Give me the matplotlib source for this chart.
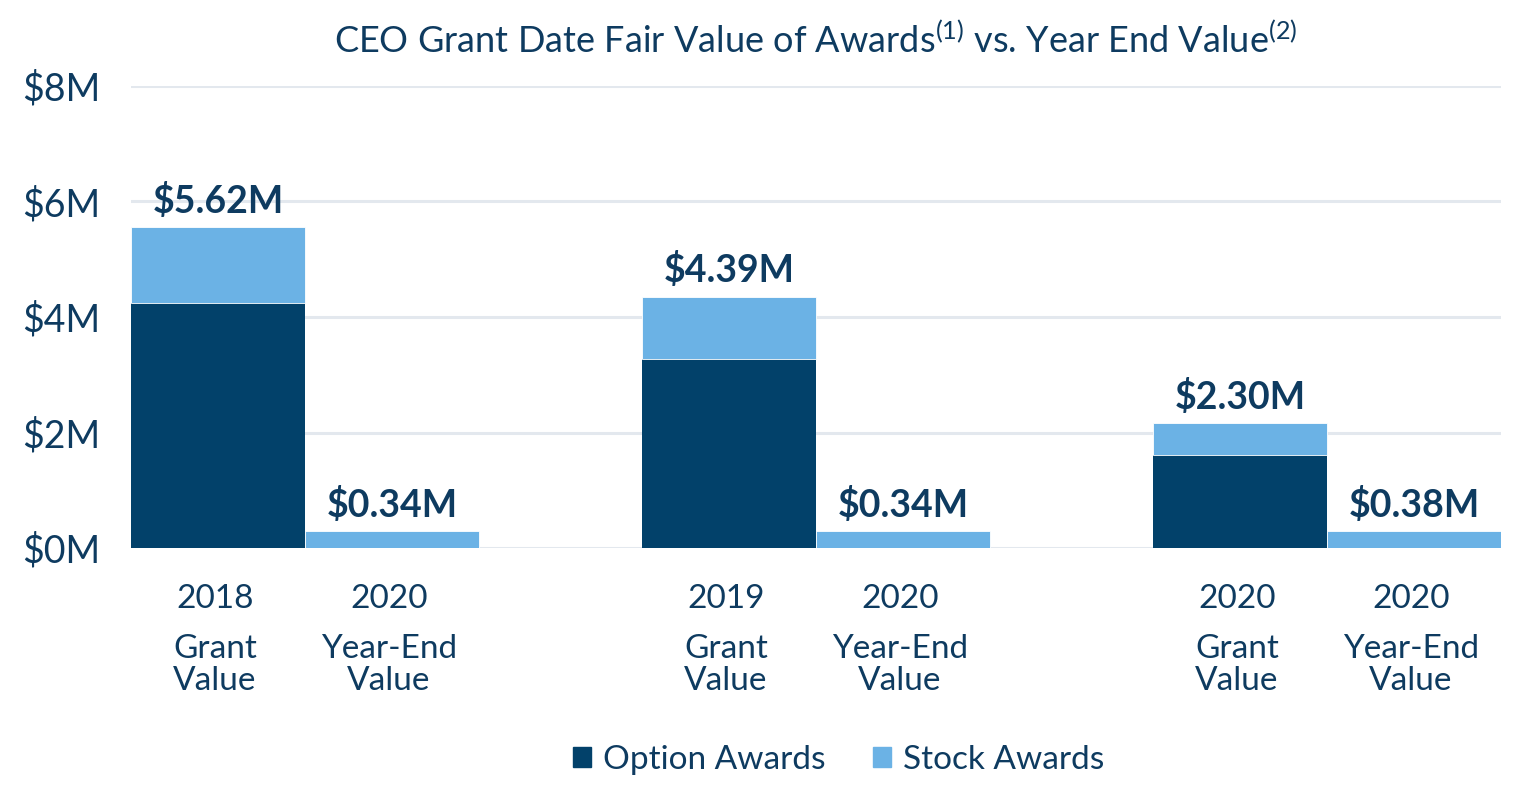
import matplotlib
matplotlib.use('Agg')
import matplotlib.pyplot as plt
from matplotlib.patches import Patch
import numpy as np

plt.rcParams['font.family'] = ['Lato', 'DejaVu Sans']
plt.rcParams['mathtext.fontset'] = 'custom'
plt.rcParams['mathtext.rm'] = 'Lato'
plt.rcParams['mathtext.default'] = 'regular'

# data (in $M)
years = ['2018', '2020', '2019', '2020', '2020', '2020']
kinds = ['Grant\nValue', 'Year-End\nValue', 'Grant\nValue', 'Year-End\nValue', 'Grant\nValue', 'Year-End\nValue']
option_awards = [4.24, 0.0, 3.27, 0.0, 1.61, 0.0]
stock_awards = [1.31, 0.29, 1.08, 0.29, 0.55, 0.29]
value_labels = ['$5.62M', '$0.34M', '$4.39M', '$0.34M', '$2.30M', '$0.38M']
yticks = [0, 2, 4, 6, 8]
ytick_labels = ['$0M', '$2M', '$4M', '$6M', '$8M']

navy = '#02416A'
light = '#6BB2E5'
txt = '#0E3B60'
grid = '#E3E8EE'

fig = plt.figure(figsize=(15.18, 8), dpi=100)
ax = fig.add_axes([131/1518, 1 - 548/800, (1501-131)/1518, (548-86)/800])

# bar positions: pairs inside groups
w = 174/511
x = []
for g in range(3):
    x += [g, g + w]
x = np.array(x)

ax.bar(x, option_awards, width=w, color=navy, zorder=3, linewidth=0)
ax.bar(x, stock_awards, width=w, bottom=option_awards, color=light, zorder=3,
       edgecolor='white', linewidth=0.6)

tot = np.array(option_awards) + np.array(stock_awards)
for xi, t, lab in zip(x, tot, value_labels):
    ax.annotate(lab, (xi, t), xytext=(0, 6), textcoords='offset points',
                ha='center', va='bottom', fontsize=27, fontweight='bold', color=txt)

ax.set_xlim(x[0] - w/2, x[-1] + w/2)
ax.set_ylim(0, 8)
ax.set_yticks(yticks)
ax.set_yticklabels(ytick_labels)
ax.tick_params(axis='y', length=0, pad=22, labelsize=27, labelcolor=txt)
ax.set_xticks([])
for s in ax.spines.values():
    s.set_visible(False)
ax.grid(axis='y', color=grid, linewidth=2.2, zorder=0)

# category labels under the bars
for xi, yr, k in zip(x - 0.006, years, kinds):
    ax.text(xi, -0.88, yr, ha='center', va='center', fontsize=24, color=txt)
    ax.text(xi, -2.03, k, ha='center', va='center', fontsize=24, color=txt,
            linespacing=1.1)

ax.set_title('CEO Grant Date Fair Value of Awards$^{(1)}$ vs. Year End Value$^{(2)}$',
             fontsize=26, color=txt, pad=24)

handles = [Patch(color=navy, label='Option Awards'), Patch(color=light, label='Stock Awards')]
leg = fig.legend(handles=handles, loc='center', bbox_to_anchor=(0.5525, 0.05), ncol=2,
                 frameon=False, fontsize=24, handlelength=0.55, handleheight=0.55,
                 handletextpad=0.35, columnspacing=1.42)
for t in leg.get_texts():
    t.set_color(txt)

fig.savefig('out.png', dpi=100)
